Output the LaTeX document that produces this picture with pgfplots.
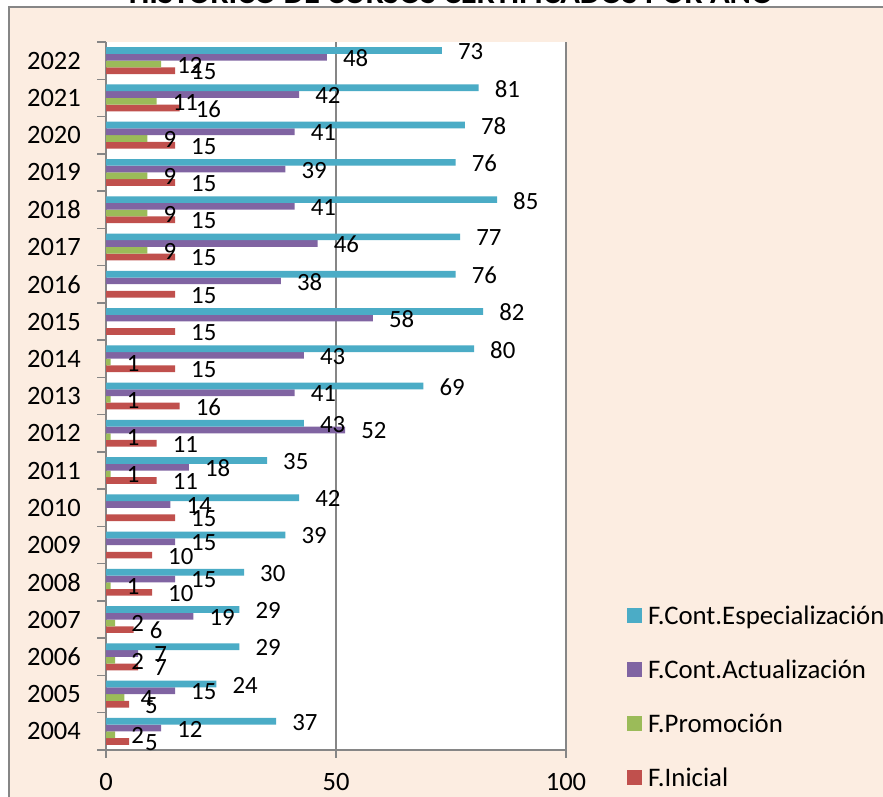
\documentclass[border=0pt]{standalone}
\usepackage{fontspec}
\setmainfont{Carlito}
\usepackage{pgfplots}
\pgfplotsset{compat=1.18}
\definecolor{bgc}{HTML}{FCEDE1}
\definecolor{cEsp}{HTML}{4BACC6}
\definecolor{cAct}{HTML}{8064A2}
\definecolor{cPro}{HTML}{9BBB59}
\definecolor{cIni}{HTML}{C0504D}
\definecolor{axc}{HTML}{868686}
\newcommand\tfont{\fontsize{26.5pt}{30pt}\selectfont}
\newcommand\dfont{\fontsize{24.8pt}{29pt}\selectfont}
\newcommand\lfont{\fontsize{26.8pt}{30pt}\selectfont}
\begin{document}
\begin{tikzpicture}[x=1pt,y=1pt]
\useasboundingbox (0,0) rectangle (883,796);
\clip (0,0) rectangle (883,796);
\fill[white] (0,0) rectangle (883,796);
\filldraw[fill=bgc, draw=axc, line width=1.5pt] (9,-20) rectangle (910,789);
\node[anchor=base, font=\bfseries\fontsize{32.5pt}{36pt}\selectfont, inner sep=0] at (451,792.5) {HISTÓRICO DE CURSOS CERTIFICADOS POR AÑO};
\begin{axis}[
  at={(106pt,46pt)}, anchor=south west,
  width=460pt, height=708pt, scale only axis,
  xbar, bar width=0.18,
  xmin=0, xmax=100, ymin=2003.5, ymax=2022.5,
  axis background/.style={fill=white},
  axis x line*=bottom, axis y line*=left,
  axis line style={axc, line width=1.5pt, -},
  xtick={0,50,100}, xmajorgrids, grid style={axc, line width=1.5pt},
  ytick={2004,...,2022}, minor ytick={2003.5,2004.5,...,2022.5},
  tick align=outside, major tick length=8pt, minor tick length=9pt,
  major x tick style={axc, line width=1.5pt},
  major y tick style={draw=none},
  minor y tick style={axc, line width=1.5pt},
  /pgf/number format/assume math mode=true,
  /pgf/number format/1000 sep={},
  xticklabel style={font=\tfont, anchor=north, inner sep=0pt, yshift=-15pt},
  yticklabel style={font=\tfont, anchor=east, inner sep=0pt, xshift=-17pt},
  nodes near coords,
  nodes near coords style={font=\dfont, anchor=west, inner sep=0pt, xshift=16pt, yshift=-1pt, text=black},
  legend style={at={(rel axis cs:1.1326,0.2045)}, anchor=north west, draw=none, fill=none,
    inner sep=0pt, font=\lfont, row sep=34pt,
    nodes={inner sep=0pt},
    /tikz/every odd column/.append style={column sep=6pt}},
  legend cell align=left, reverse legend,
  legend image code/.code={\fill[#1,draw=none] (0pt,-7.5pt) rectangle (15pt,7.5pt);},
]
\addplot[fill=cIni, draw=none, bar shift=-0.27] coordinates {
(5,2004) (5,2005) (7,2006) (6,2007) (10,2008) (10,2009) (15,2010) (11,2011) (11,2012) (16,2013)
(15,2014) (15,2015) (15,2016) (15,2017) (15,2018) (15,2019) (15,2020) (16,2021) (15,2022)};
\addplot[fill=cPro, draw=none, bar shift=-0.09] coordinates {
(2,2004) (4,2005) (2,2006) (2,2007) (1,2008) (1,2011) (1,2012) (1,2013)
(1,2014) (9,2017) (9,2018) (9,2019) (9,2020) (11,2021) (12,2022)};
\addplot[fill=cAct, draw=none, bar shift=0.09] coordinates {
(12,2004) (15,2005) (7,2006) (19,2007) (15,2008) (15,2009) (14,2010) (18,2011) (52,2012) (41,2013)
(43,2014) (58,2015) (38,2016) (46,2017) (41,2018) (39,2019) (41,2020) (42,2021) (48,2022)};
\addplot[fill=cEsp, draw=none, bar shift=0.27] coordinates {
(37,2004) (24,2005) (29,2006) (29,2007) (30,2008) (39,2009) (42,2010) (35,2011) (43,2012) (69,2013)
(80,2014) (82,2015) (76,2016) (77,2017) (85,2018) (76,2019) (78,2020) (81,2021) (73,2022)};
\legend{F.Inicial, F.Promoción, F.Cont.Actualización, F.Cont.Especialización}
\end{axis}
\end{tikzpicture}
\end{document}
